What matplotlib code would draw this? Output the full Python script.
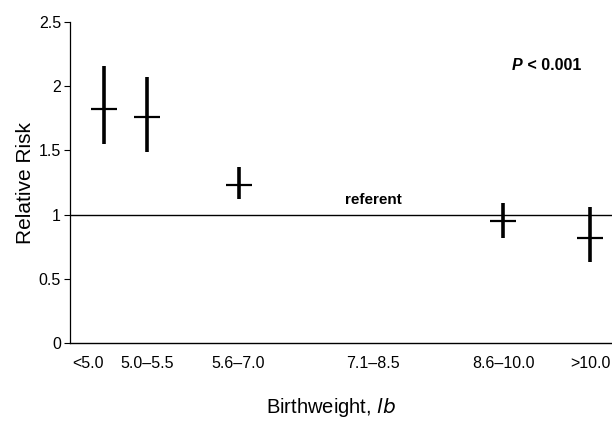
import matplotlib
matplotlib.use("Agg")
import matplotlib.pyplot as plt
import matplotlib.transforms as mtransforms

plt.rcParams["font.family"] = ["Liberation Sans", "DejaVu Sans"]

# birthweight groups (lb) and position on a lb scale
categories = ["<5.0", "5.0\u20135.5", "5.6\u20137.0", "7.1\u20138.5", "8.6\u201310.0", ">10.0"]
positions = [4.75, 5.25, 6.3, 7.85, 9.35, 10.35]

# relative risk with 95% CI (7.1-8.5 is the referent, no mark)
rr = [1.82, 1.76, 1.23, None, 0.95, 0.82]
ci_low = [1.55, 1.49, 1.12, None, 0.82, 0.63]
ci_high = [2.16, 2.07, 1.37, None, 1.09, 1.06]

fig = plt.figure(figsize=(6.12, 4.22), dpi=100)
ax = fig.add_axes([0.1144, 0.187, 0.8856, 0.761])

for x, r, lo, hi in zip(positions, rr, ci_low, ci_high):
    if r is None:
        continue
    ax.plot([x, x], [lo, hi], color="black", lw=2.6, solid_capstyle="butt")
    ax.plot([x], [r], marker="_", color="black", ms=19, mew=1.6)

ax.axhline(1.0, color="black", lw=1.0)
ax.text(positions[3], 1.08, "referent", ha="center", va="baseline", fontsize=11, fontweight="bold")
ptxt = ax.text(9.45, 2.16, "P", ha="left", va="center", fontsize=11.5,
               fontweight="bold", fontstyle="italic")
ax.annotate(" < 0.001", xy=(1, 0.5), xycoords=ptxt, ha="left", va="center",
            fontsize=11.5, fontweight="bold")

ax.set_xlim(4.36, 10.6)
ax.set_ylim(0, 2.5)
ax.set_yticks([0, 0.5, 1, 1.5, 2, 2.5])
ax.set_yticklabels(["0", "0.5", "1", "1.5", "2", "2.5"])
ax.set_xticks(positions)
ax.set_xticklabels(categories)
ax.tick_params(axis="x", length=0, pad=9, labelsize=11.5)
ax.tick_params(axis="y", length=4.5, width=0.8, pad=2, labelsize=11.5)

# first label sits a bit left of its mark in the original
lbl = ax.get_xticklabels()[0]
lbl.set_transform(lbl.get_transform() + mtransforms.ScaledTranslation(-0.16, 0, fig.dpi_scale_trans))

for side in ("top", "right"):
    ax.spines[side].set_visible(False)
ax.spines["left"].set_linewidth(0.9)
ax.spines["bottom"].set_linewidth(1.0)

ax.set_ylabel("Relative Risk", fontsize=15)
ax.yaxis.set_label_coords(-0.064, 0.5)
ax.set_xlabel("Birthweight, $\\it{lb}$", fontsize=14.5)
ax.xaxis.set_label_coords(0.482, -0.165)

fig.savefig("out.png", dpi=100)
